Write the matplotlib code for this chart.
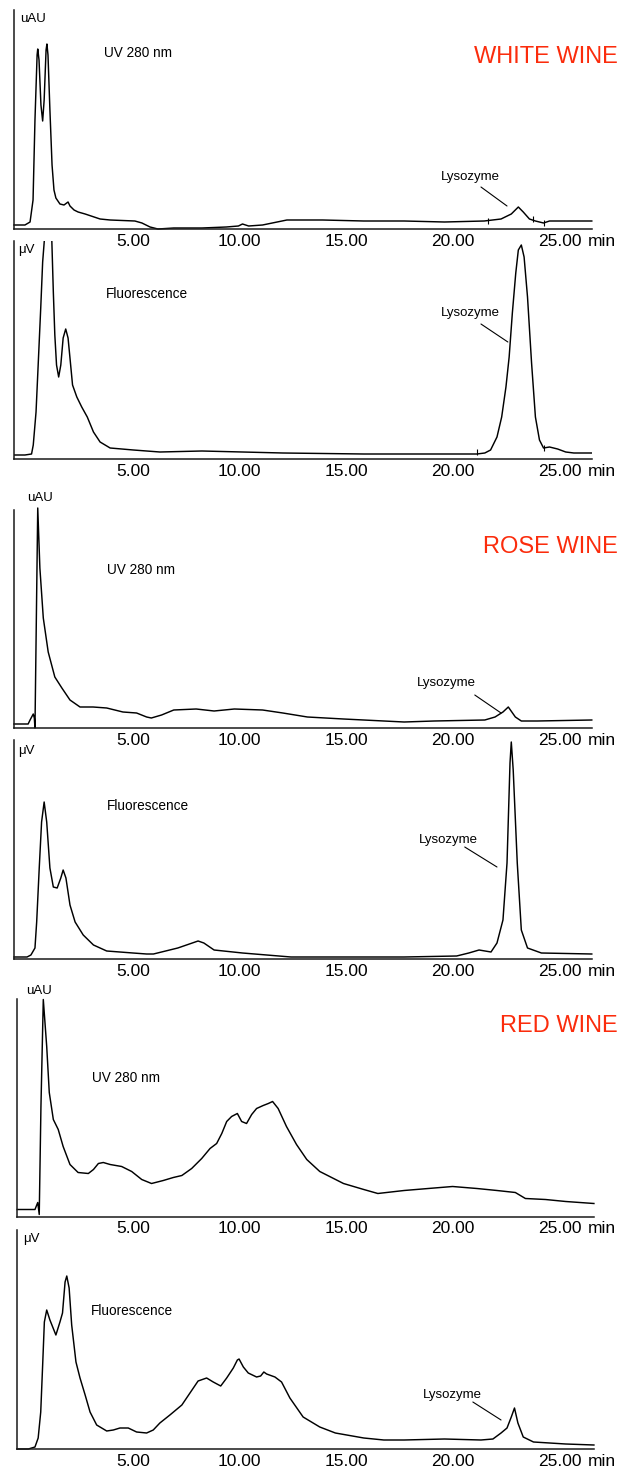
import numpy as np, matplotlib
matplotlib.use("Agg"); import matplotlib.pyplot as plt

W, H = 632, 1467
plt.rcParams['font.family'] = ['Liberation Sans', 'DejaVu Sans']

ticks = [5, 10, 15, 20, 25]
tick_labels = ["5.00", "10.00", "15.00", "20.00", "25.00"]

# retention time (min) / signal height (arbitrary units)
white_uv_t = [-0.56,-0.05,0.19,0.33,0.42,0.52,0.55,0.61,0.70,0.78,0.85,0.94,0.98,1.03,1.12,1.22,1.31,1.40,1.59,1.78,
              1.97,2.06,2.25,2.44,2.77,3.47,3.94,5.10,5.43,5.81,6.18,6.92,8.24,9.38,9.95,10.14,10.43,11.08,12.22,13.89,
              15.82,17.71,19.60,21.46,22.25,22.73,23.06,23.29,23.58,23.86,24.24,24.52,26.50]
white_uv_v = [4,4,7,29,109,174,180,169,124,108,129,179,185,174,119,64,39,31,25,24,
              27,23,19,17,15,10,9,8,6,2,0,1,1,2,3,5,3,4,9,9,
              8,8,7,8,10,15,22,17,10,8,6,8,8]
white_uv_marks_t = [21.62, 23.74, 24.24]
white_uv_marks_v = [8.5, 10, 6]

white_fl_t = [-0.56,-0.05,0.26,0.34,0.47,0.57,0.69,0.78,0.86,0.94,1.04,1.13,1.21,1.28,1.35,1.43,1.53,1.63,1.74,1.86,
              1.97,2.06,2.18,2.38,2.61,2.87,3.16,3.47,3.94,5.03,6.27,8.24,12.03,15.82,21.12,21.49,21.76,22.06,22.28,22.48,
              22.63,22.78,22.94,23.06,23.20,23.33,23.49,23.68,23.86,24.05,24.24,24.52,24.90,25.28,25.66,26.50]
white_fl_v = [4,4,5,14,47,94,151,197,219,255,290,260,218,167,124,94,82,94,121,130,
              121,101,74,62,52,42,27,17,11,9,7,8,6,5,5,6,9,22,42,72,
              102,146,186,209,214,202,162,96,42,19,11,12,10,7,6,6]
white_fl_marks_t = [21.12, 24.24]
white_fl_marks_v = [7, 11]

rose_uv_t = [-0.56,0.10,0.19,0.34,0.39,0.42,0.55,0.65,0.81,1.04,1.35,1.68,2.06,2.53,3.14,3.78,4.54,5.18,5.65,5.87,
             6.35,6.92,7.97,8.81,9.76,11.08,12.03,13.18,14.87,17.71,19.12,21.49,21.97,22.34,22.59,22.92,23.20,23.95,26.50]
rose_uv_v = [4,4,8,14,10,0,220,160,110,76,51,40,28,21,21,20,16,15,11,10,
             13,18,19,17,19,18,15,11,9,6,7,8,11,16,21,11,7,7,8]

rose_fl_t = [-0.56,0.05,0.23,0.42,0.50,0.62,0.73,0.85,0.97,1.12,1.28,1.46,1.63,1.74,1.87,2.06,2.30,2.68,3.16,3.78,
             5.01,5.65,5.97,7.11,8.06,8.33,8.81,10.14,12.41,17.71,20.17,20.74,21.22,21.78,22.06,22.34,22.53,22.67,22.73,22.82,
             23.01,23.20,23.49,24.14,26.50]
rose_fl_v = [2,2,4,11,37,91,137,157,137,91,72,71,81,89,81,54,37,24,14,8,
             6,5,5,11,18,16,9,6,2,2,3,6,9,7,16,39,96,196,217,189,
             96,29,11,6,5]

red_uv_t = [-0.41,0.42,0.55,0.62,0.70,0.81,0.97,1.09,1.28,1.51,1.74,2.06,2.44,2.92,3.16,3.39,3.62,3.94,4.48,4.95,
            5.42,5.88,6.43,6.90,7.30,7.76,8.23,8.62,8.93,9.17,9.40,9.63,9.90,10.10,10.33,10.57,10.80,11.11,11.35,11.55,
            11.81,12.20,12.67,13.15,13.76,14.87,15.82,16.48,17.71,18.84,19.98,21.12,22.06,22.92,23.39,24.33,25.28,26.60]
red_uv_v = [7,7,14,2,110,217,170,124,97,87,70,52,44,43,47,53,54,52,50,45,
            37,33,36,39,41,48,58,68,73,83,95,100,103,95,93,102,108,111,113,115,
            108,90,72,57,45,33,27,23,26,28,30,28,26,24,18,17,15,13]

red_fl_t = [-0.41,0.11,0.42,0.57,0.69,0.78,0.86,0.97,1.12,1.40,1.59,1.71,1.83,1.91,2.02,2.14,2.34,2.53,2.77,3.00,
            3.31,3.78,4.09,4.40,4.79,5.18,5.65,5.96,6.27,6.74,7.30,7.68,8.06,8.46,8.77,9.12,9.40,9.71,9.90,9.98,
            10.18,10.41,10.80,10.99,11.14,11.27,11.66,11.97,12.36,12.98,13.76,14.49,15.82,16.76,17.71,19.60,21.31,21.87,22.25,22.53,
            22.73,22.88,23.04,23.29,23.77,25.28,26.60]
red_fl_v = [0,0,2,11,37,84,127,139,129,114,127,136,167,173,161,124,87,71,54,37,
            24,18,19,21,21,17,16,19,26,34,44,56,68,71,67,63,71,81,89,90,
            82,76,72,73,77,75,72,67,51,32,22,16,11,9,9,10,9,10,16,21,
            32,41,26,12,7,5,4]

RED = "#fb2c0c"
fig = plt.figure(figsize=(W/100, H/100), dpi=100)

# pixel box (left, right, top, bottom), trace, unit label, detector label, wine label, lysozyme label + pointer
panels = [
    dict(box=(14, 592, 10, 229), t=white_uv_t, v=white_uv_v, marks=(white_uv_marks_t, white_uv_marks_v),
         unit=("uAU", -0.28, 210), det=("UV 280 nm", 3.66, 176), wine=("WHITE WINE", 172),
         lyso=((20.83, 52), (21.31, 42), (22.53, 23)), clip=False),
    dict(box=(14, 592, 241, 459), t=white_fl_t, v=white_fl_v, marks=(white_fl_marks_t, white_fl_marks_v),
         unit=("μV", -0.36, 209), det=("Fluorescence", 3.74, 165), wine=None,
         lyso=((20.83, 146), (21.31, 135), (22.57, 117)), clip=True),
    dict(box=(14, 592, 510, 728), t=rose_uv_t, v=rose_uv_v, marks=None,
         unit=("uAU", 0.03, 230), det=("UV 280 nm", 3.80, 158), wine=("ROSE WINE", 181),
         lyso=((19.70, 45), (21.02, 33), (22.25, 15)), clip=False),
    dict(box=(14, 592, 740, 959), t=rose_fl_t, v=rose_fl_v, marks=None,
         unit=("μV", -0.36, 208), det=("Fluorescence", 3.78, 153), wine=None,
         lyso=((19.79, 119), (20.55, 112), (22.06, 92)), clip=False),
    dict(box=(17.3, 594, 999, 1216.5), t=red_uv_t, v=red_uv_v, marks=None,
         unit=("uAU", 0.0, 225), det=("UV 280 nm", 3.08, 138), wine=("RED WINE", 191),
         lyso=None, clip=False),
    dict(box=(17.3, 594, 1230, 1449), t=red_fl_t, v=red_fl_v, marks=None,
         unit=("μV", -0.15, 210), det=("Fluorescence", 3.03, 138), wine=None,
         lyso=((19.98, 54), (20.93, 47), (22.25, 29)), clip=False),
]

px0, ppm = 26.0, 21.35   # pixel of t=0 and pixels per minute
for p in panels:
    L, R, T, B = p["box"]
    ax = fig.add_axes([L/W, 1 - B/H, (R - L)/W, (B - T)/H])
    ax.patch.set_alpha(0)
    ax.set_xlim((L - px0)/ppm, (R - px0)/ppm); ax.set_ylim(0, B - T)
    for s in ("top", "right"): ax.spines[s].set_visible(False)
    for s in ("left", "bottom"): ax.spines[s].set_linewidth(1.1); ax.spines[s].set_color("#1a1a1a")
    ax.set_yticks([])
    ax.set_xticks(ticks, tick_labels, fontsize=12.5)
    ax.tick_params(axis="x", length=0, pad=3.5)
    ax.annotate("min", xy=(26.3, 0), xycoords=("data", "axes fraction"), xytext=(0, -3.5),
                textcoords="offset points", ha="left", va="top", fontsize=12.5, annotation_clip=False)
    ax.plot(p["t"], p["v"], color="black", lw=1.05, clip_on=p["clip"])
    if p["marks"]:
        ax.plot(p["marks"][0], p["marks"][1], ls="none", marker="|", ms=5, mew=0.8, color="black")
    u, ux, uy = p["unit"]
    ax.text(ux, uy, u, fontsize=9.5, ha="left", va="center", clip_on=False)
    d, dx, dy = p["det"]
    ax.text(dx, dy, d, fontsize=9.8, ha="left", va="center")
    if p["wine"]:
        ax.text((618 - px0)/ppm, p["wine"][1], p["wine"][0], color=RED, fontsize=17,
                ha="right", va="center", clip_on=False)
    if p["lyso"]:
        (lx, ly), a, b = p["lyso"]
        ax.text(lx, ly, "Lysozyme", fontsize=9.5, ha="center", va="center")
        ax.annotate("", xy=b, xytext=a, arrowprops=dict(arrowstyle="-", lw=0.8, color="black",
                                                        shrinkA=0, shrinkB=0))

fig.savefig("out.png", dpi=100)
